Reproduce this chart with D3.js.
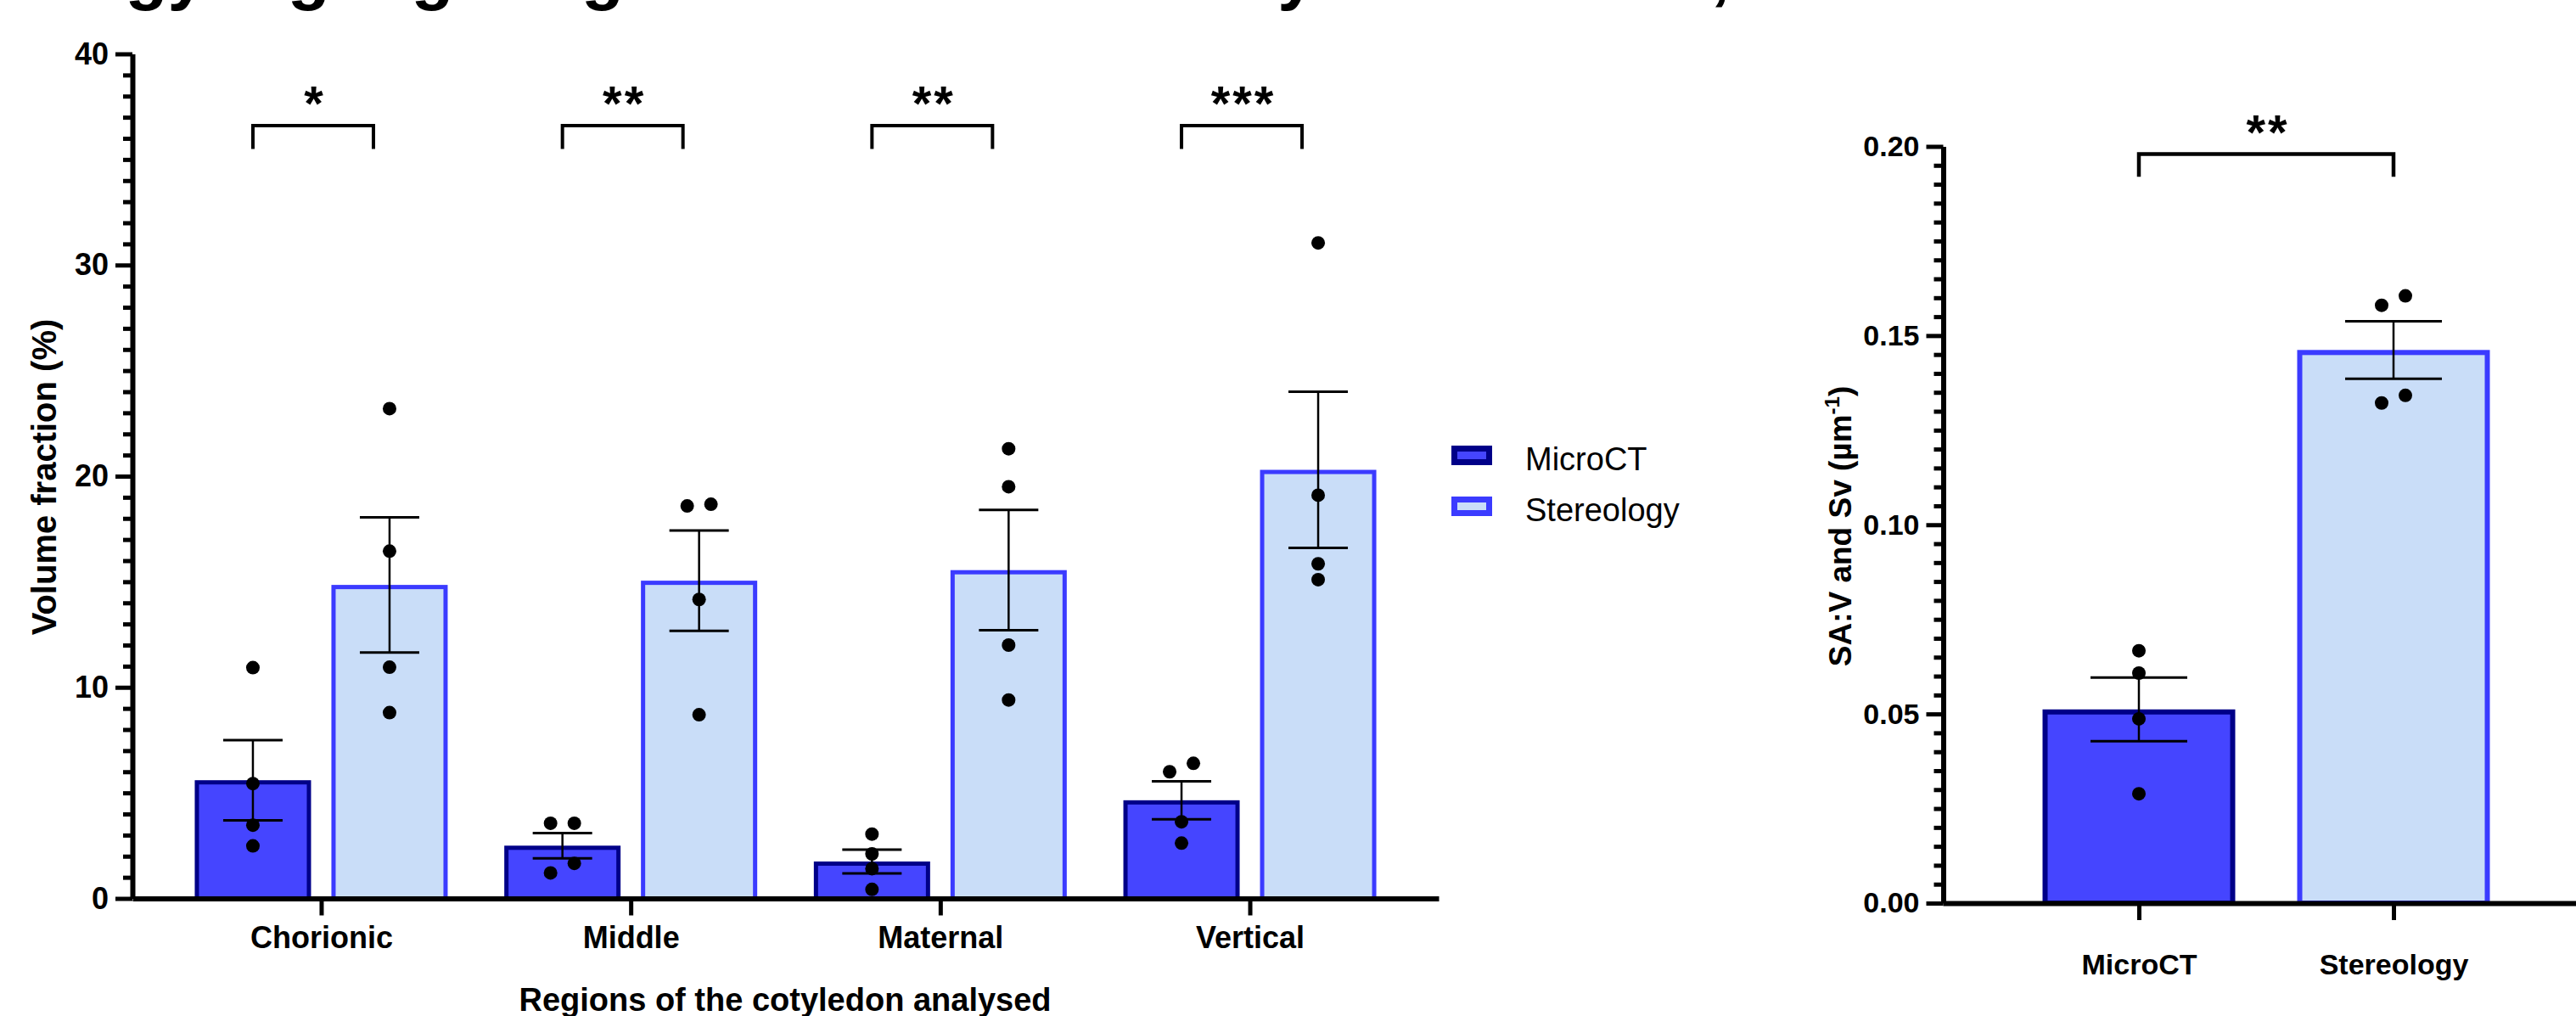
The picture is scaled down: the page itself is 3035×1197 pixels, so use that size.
<!DOCTYPE html>
<html><head><meta charset="utf-8">
<script src="https://cdn.jsdelivr.net/npm/d3@7"></script>
<style>html,body{margin:0;padding:0;background:#fff;overflow:hidden}</style>
</head><body>
<svg id="c" width="3035" height="1197" xmlns="http://www.w3.org/2000/svg"></svg>
<script>
// ---------- DATA ----------
const titleText = "Morphology highlighting these differences by the method,";
const regions = ["Chorionic", "Middle", "Maternal", "Vertical"];
const series = ["MicroCT", "Stereology"];
const leftTicks = [0, 10, 20, 30, 40];
const rightTicks = [0, 0.05, 0.10, 0.15, 0.20];

// Volume fraction (%) — mean and SEM per region
const microMean = [5.6, 2.5, 1.75, 4.65];
const microSem  = [1.9, 0.6, 0.56, 0.9];
const stereoMean = [14.85, 15.05, 15.55, 20.3];
const stereoSem  = [3.2, 2.38, 2.85, 3.7];
// individual values
const microPts = [[10.93, 5.44, 3.47, 2.49], [3.56, 3.56, 1.66, 1.21], [3.05, 2.11, 1.41, 0.43], [6.4, 6.0, 3.63, 2.62]];
const stereoPts = [[23.2, 16.45, 10.95, 8.8], [18.67, 18.59, 14.16, 8.7], [21.3, 19.5, 12.0, 9.4], [31.05, 19.1, 15.85, 15.1]];
// scatter column slot of each point (-1 left, 0 centre, 1 right)
const microSlots = [[0, 0, 0, 0], [1, -1, 1, -1], [0, 0, 0, 0], [1, -1, 0, 0]];
const stereoSlots = [[0, 0, 0, 0], [1, -1, 0, 0], [0, 0, 0, 0], [0, 0, 0, 0]];
const leftSig = ["*", "**", "**", "***"];
const leftBracketValue = 36.6;
const leftBracketDrop = 35.5;

// SA:V and Sv (µm-1)
const savMethods = ["MicroCT", "Stereology"];
const savMean = [0.0512, 0.1462];
const savSem  = [0.0084, 0.0076];
const savPts  = [[0.0667, 0.0608, 0.0487, 0.0289], [0.1605, 0.158, 0.1342, 0.1322]];
const savSlots = [[0, 0, 0, 0], [1, -1, 1, -1]];
const rightSig = "**";
const rightBracketValue = 0.198;
const rightBracketDrop = 0.192;

// ---------- STYLE ----------
const FONT = "'Liberation Sans', Arial, Helvetica, sans-serif";
const fillC = {MicroCT: "#4545FF", Stereology: "#C9DDF8"};
const strokeC = {MicroCT: "#000088", Stereology: "#3B3BFF"};

const svg = d3.select("#c");
svg.append("rect").attr("width", 3035).attr("height", 1197).attr("fill", "#fff");

// cut-off title at the very top
svg.append("text").attr("x", -226).attr("y", -4)
  .attr("font-family", FONT).attr("font-weight", "bold").attr("font-size", 82)
  .attr("fill", "#000").text(titleText);

function yAxis(g, scale, x, major, minorVals, fmt, fs) {
  const a = g.append("g").attr("transform", `translate(${x},0)`);
  a.append("g").call(d3.axisLeft(scale).tickValues(minorVals).tickSize(11).tickSizeOuter(0).tickFormat(""))
    .call(s => s.select(".domain").remove())
    .selectAll("line").attr("stroke", "#000").attr("stroke-width", 5);
  const m = a.append("g").call(d3.axisLeft(scale).tickValues(major).tickSize(20).tickSizeOuter(0).tickPadding(8).tickFormat(fmt));
  m.select(".domain").attr("stroke", "#000").attr("stroke-width", 6);
  m.selectAll("line").attr("stroke", "#000").attr("stroke-width", 5);
  m.selectAll("text").attr("font-family", FONT).attr("font-weight", "bold").attr("font-size", fs).attr("fill", "#000");
}
function xAxis(g, scale, y, pad, fs) {
  const a = g.append("g").attr("transform", `translate(0,${y})`)
    .call(d3.axisBottom(scale).tickSize(20).tickSizeOuter(0).tickPadding(pad));
  a.select(".domain").attr("stroke", "#000").attr("stroke-width", 6);
  a.selectAll("line").attr("stroke", "#000").attr("stroke-width", 5);
  a.selectAll("text").attr("font-family", FONT).attr("font-weight", "bold").attr("font-size", fs).attr("fill", "#000");
}

// ---------- LEFT CHART ----------
const L = svg.append("g");
const yL = d3.scaleLinear().domain([0, 40]).range([1058.5, 63.5]);
const xL = d3.scalePoint().domain(regions).range([156, 1695]).padding(0.61);
const xSubL = d3.scaleBand().domain(series).range([-149, 149]).paddingInner(0.149);

const rowsL = [];
regions.forEach((r, i) => {
  rowsL.push({r, s: "MicroCT", mean: microMean[i], sem: microSem[i], pts: microPts[i], slots: microSlots[i]});
  rowsL.push({r, s: "Stereology", mean: stereoMean[i], sem: stereoSem[i], pts: stereoPts[i], slots: stereoSlots[i]});
});
const swL = 5;
L.selectAll("rect.bar").data(rowsL).join("rect").attr("class", "bar")
  .attr("x", d => xL(d.r) + xSubL(d.s) + swL / 2)
  .attr("width", xSubL.bandwidth() - swL)
  .attr("y", d => yL(d.mean) + swL / 2)
  .attr("height", d => yL(0) - yL(d.mean) - swL / 2)
  .attr("fill", d => fillC[d.s]).attr("stroke", d => strokeC[d.s]).attr("stroke-width", swL);

yAxis(L, yL, 156, leftTicks, d3.range(0, 41, 1).filter(v => v % 10 !== 0), d3.format("d"), 36);
xAxis(L, xL, 1058.5, 13, 36);

function errBars(g, rows, xf, yf, capHalf) {
  const e = g.selectAll("g.err").data(rows).join("g").attr("class", "err");
  e.append("line").attr("x1", xf).attr("x2", xf)
    .attr("y1", d => yf(d.mean - d.sem)).attr("y2", d => yf(d.mean + d.sem))
    .attr("stroke", "#000").attr("stroke-width", 2.5);
  [1, -1].forEach(sg => {
    e.append("line").attr("x1", d => xf(d) - capHalf).attr("x2", d => xf(d) + capHalf)
      .attr("y1", d => yf(d.mean + sg * d.sem)).attr("y2", d => yf(d.mean + sg * d.sem))
      .attr("stroke", "#000").attr("stroke-width", 3);
  });
}
function dots(g, rows, xf, yf, shift) {
  const pts = [];
  rows.forEach(d => d.pts.forEach((v, k) => pts.push({row: d, v, slot: d.slots[k]})));
  g.selectAll("circle.pt").data(pts).join("circle").attr("class", "pt")
    .attr("cx", p => xf(p.row) + p.slot * shift).attr("cy", p => yf(p.v))
    .attr("r", 8).attr("fill", "#000");
}
const cxL = d => xL(d.r) + xSubL(d.s) + xSubL.bandwidth() / 2;
errBars(L, rowsL, cxL, yL, 35);
dots(L, rowsL, cxL, yL, 14);

// significance brackets (start over the MicroCT bar)
const brW = 142;
const brStart = r => xL(r) + xSubL("MicroCT") + xSubL.bandwidth() / 2;
const brL = L.selectAll("g.br").data(regions).join("g").attr("class", "br");
brL.append("path")
  .attr("d", r => {
    const x1 = brStart(r), x2 = x1 + brW;
    return `M${x1},${yL(leftBracketDrop)}V${yL(leftBracketValue)}H${x2}V${yL(leftBracketDrop)}`;
  })
  .attr("fill", "none").attr("stroke", "#000").attr("stroke-width", 4);
brL.append("text").attr("x", r => brStart(r) + brW / 2 + 2).attr("y", yL(leftBracketValue) - 6)
  .attr("text-anchor", "middle").attr("font-family", FONT).attr("font-weight", "bold").attr("font-size", 58)
  .attr("letter-spacing", 3)
  .text((r, i) => leftSig[i]);

L.append("text").attr("transform", "translate(66,562) rotate(-90)").attr("text-anchor", "middle")
  .attr("font-family", FONT).attr("font-weight", "bold").attr("font-size", 40).text("Volume fraction (%)");
L.append("text").attr("x", 925).attr("y", 1191).attr("text-anchor", "middle")
  .attr("font-family", FONT).attr("font-weight", "bold").attr("font-size", 38).text("Regions of the cotyledon analysed");

// legend
const lg = svg.append("g").selectAll("g").data(series).join("g")
  .attr("transform", (d, i) => `translate(1710,${525 + i * 60})`);
lg.append("rect").attr("x", 3.5).attr("y", 3.5).attr("width", 41).attr("height", 16)
  .attr("fill", d => fillC[d]).attr("stroke", d => strokeC[d]).attr("stroke-width", 7);
lg.append("text").attr("x", 87).attr("y", 29).attr("font-family", FONT).attr("font-size", 38).text(d => d);

// ---------- RIGHT CHART ----------
const R = svg.append("g");
const yR = d3.scaleLinear().domain([0, 0.2]).range([1064, 172.5]);
const xR = d3.scalePoint().domain(savMethods).range([2289, 3051]).padding(0.77);
const bwR = 227;
const rowsR = savMethods.map((s, i) => ({s, mean: savMean[i], sem: savSem[i], pts: savPts[i], slots: savSlots[i]}));
const swR = 6;
R.selectAll("rect.bar").data(rowsR).join("rect").attr("class", "bar")
  .attr("x", d => xR(d.s) - bwR / 2 + swR / 2).attr("width", bwR - swR)
  .attr("y", d => yR(d.mean) + swR / 2).attr("height", d => yR(0) - yR(d.mean) - swR / 2)
  .attr("fill", d => fillC[d.s]).attr("stroke", d => strokeC[d.s]).attr("stroke-width", swR);

yAxis(R, yR, 2289.5, rightTicks, d3.range(0, 41, 1).filter(v => v % 10 !== 0).map(v => v * 0.005), d3.format(".2f"), 34);
xAxis(R, xR, 1064, 40, 34);

const cxR = d => xR(d.s);
errBars(R, rowsR, cxR, yR, 57);
dots(R, rowsR, cxR, yR, 14);

R.append("path")
  .attr("d", `M${xR(savMethods[0])},${yR(rightBracketDrop)}V${yR(rightBracketValue)}H${xR(savMethods[1])}V${yR(rightBracketDrop)}`)
  .attr("fill", "none").attr("stroke", "#000").attr("stroke-width", 4.5);
R.append("text").attr("x", (xR(savMethods[0]) + xR(savMethods[1])) / 2 + 2).attr("y", yR(rightBracketValue) - 5)
  .attr("text-anchor", "middle").attr("font-family", FONT).attr("font-weight", "bold").attr("font-size", 58)
  .attr("letter-spacing", 3).text(rightSig);

const yl = R.append("text").attr("transform", "translate(2181,620) rotate(-90)").attr("text-anchor", "middle")
  .attr("font-family", FONT).attr("font-weight", "bold").attr("font-size", 37);
yl.append("tspan").text("SA:V and Sv (µm");
yl.append("tspan").attr("dy", -14).attr("font-size", 24).text("-1");
yl.append("tspan").attr("dy", 14).text(")");
</script></body></html>
